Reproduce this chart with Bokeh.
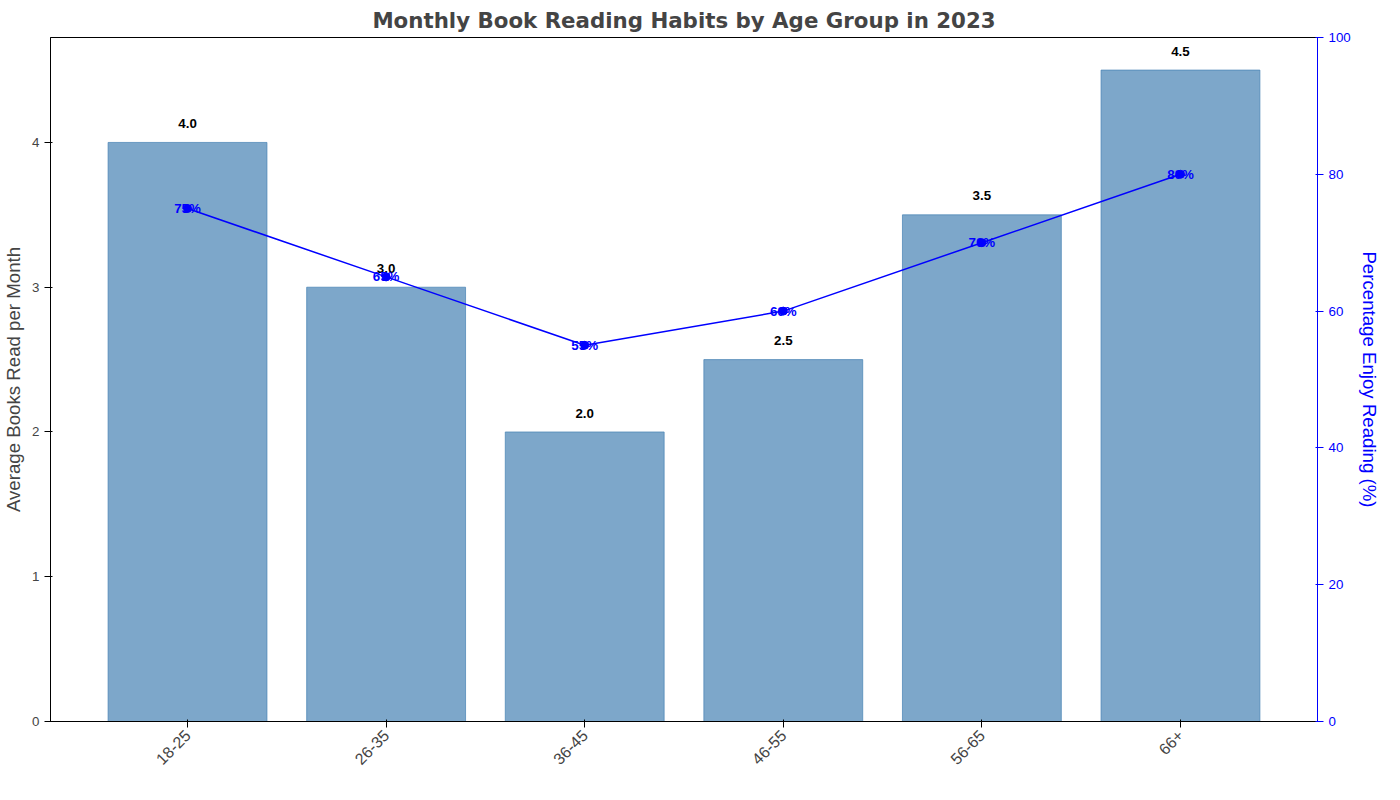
from math import pi
from bokeh.plotting import figure
from bokeh.models import ColumnDataSource, FactorRange, Range1d, LinearAxis
from bokeh.embed import file_html
from bokeh.resources import INLINE

age_groups = ["18-25", "26-35", "36-45", "46-55", "56-65", "66+"]
books = [4.0, 3.0, 2.0, 2.5, 3.5, 4.5]
enjoy = [75, 65, 55, 60, 70, 80]

src = ColumnDataSource(data=dict(
    age=age_groups, books=books, enjoy=enjoy,
    book_top=[b + 0.1 for b in books],
    book_lbl=[f"{b:.1f}" for b in books],
    pct_lbl=[f"{e}%" for e in enjoy],
))

p = figure(width=1384, height=784, output_backend="svg", toolbar_location=None,
           x_range=FactorRange(*age_groups, range_padding=0.19, range_padding_units="absolute"),
           y_range=Range1d(0, 4.725),
           title="Monthly Book Reading Habits by Age Group in 2023",
           min_border_left=50, min_border_right=67, min_border_bottom=63, min_border_top=10)
p.title.align = "center"
p.title.text_font_size = "16pt"
p.title.text_font = "DejaVu Sans"
p.title.offset = 0
p.extra_y_ranges = {"pct": Range1d(0, 100)}

p.vbar(x="age", top="books", width=0.8, source=src, color="#4682b4", alpha=0.7)
p.text(x="age", y="book_top", text="book_lbl", source=src, text_align="center",
       text_baseline="bottom", text_font_size="10pt", text_font_style="bold")

p.line(x="age", y="enjoy", source=src, y_range_name="pct", color="blue", line_width=1.5)
p.scatter(x="age", y="enjoy", source=src, y_range_name="pct", color="blue", size=8)
p.text(x="age", y="enjoy", text="pct_lbl", source=src, y_range_name="pct",
       text_align="center", text_baseline="middle", text_color="blue",
       text_font_size="10pt", text_font_style="bold")

right = LinearAxis(y_range_name="pct", axis_label="Percentage Enjoy Reading (%)")
right.ticker.desired_num_ticks = 6
for ax in [right]:
    ax.axis_line_color = "blue"
    ax.major_tick_line_color = "blue"
    ax.major_label_text_color = "blue"
    ax.axis_label_text_color = "blue"
p.add_layout(right, "right")

p.yaxis[0].axis_label = "Average Books Read per Month"
p.xaxis.major_label_orientation = pi / 4
p.xaxis.major_label_text_font_size = "12pt"
for ax in p.yaxis:
    ax.axis_label_text_font_size = "14pt"
    ax.axis_label_text_font_style = "normal"
    ax.major_label_text_font_size = "10pt"
    ax.minor_tick_line_color = None
p.xgrid.grid_line_color = None
p.ygrid.grid_line_color = None
p.outline_line_color = "black"

open("out.html", "w").write(file_html(p, INLINE))
